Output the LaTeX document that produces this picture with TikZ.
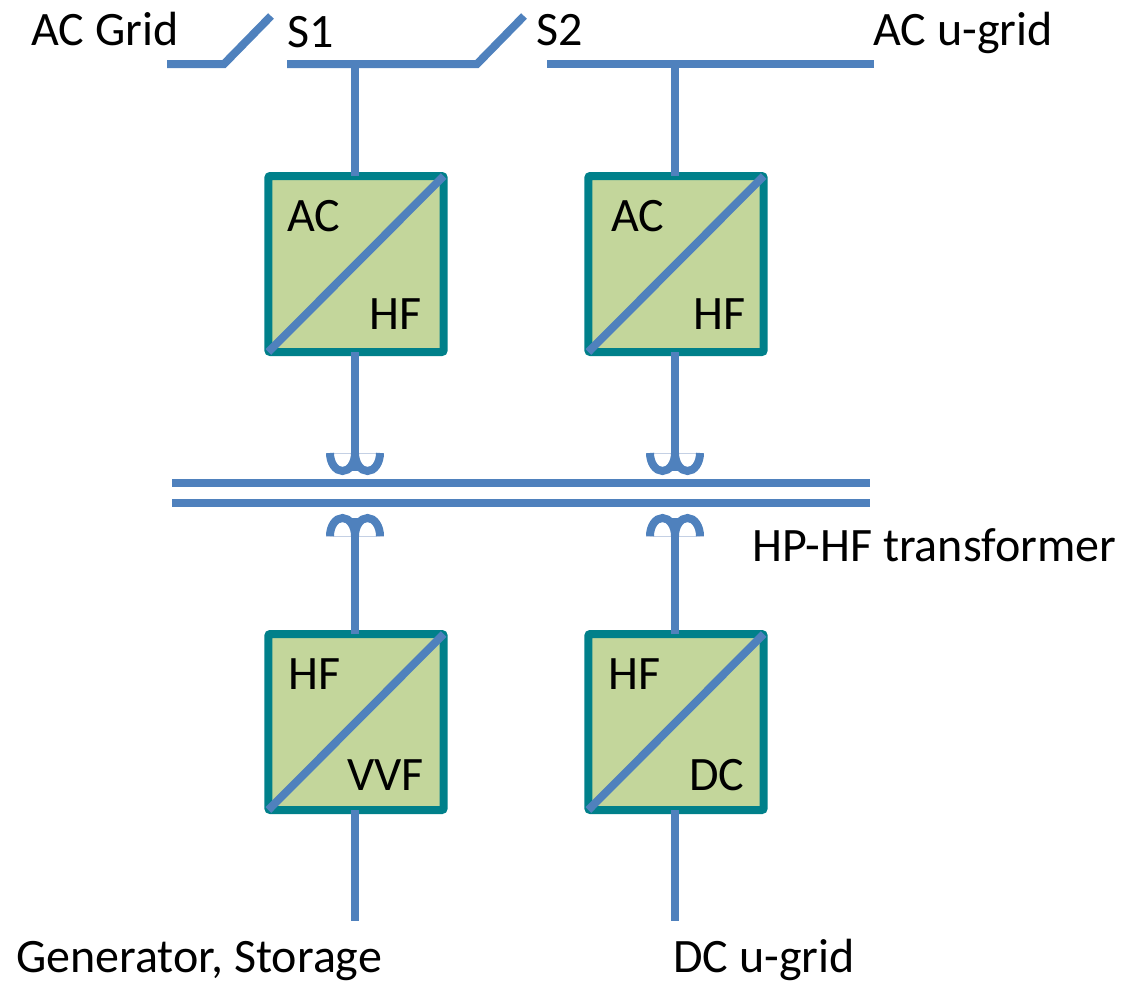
\documentclass[tikz,border=0pt]{standalone}
\usepackage{fontspec}
\setmainfont{Carlito}
\definecolor{wireblue}{HTML}{4F81BD}
\definecolor{convteal}{HTML}{00808A}
\definecolor{convgreen}{HTML}{C3D69B}
\definecolor{coilfaint}{HTML}{C4D0E4}
\tikzset{x=0.75pt,y=-0.75pt,
 wire/.style={draw=wireblue,line width=6pt},
 faint/.style={draw=coilfaint,line width=0.75pt},
 conv/.style={draw=convteal,fill=convgreen,line width=6pt,rounded corners=1.5pt,minimum width=131.5pt,minimum height=132pt,inner sep=0pt,outer sep=0pt},
 lab/.style={font=\fontsize{36}{38}\selectfont,inner sep=0pt,anchor=base west,text=black,yshift=-1.5pt}}
\begin{document}
\begin{tikzpicture}
\useasboundingbox (0,0) rectangle (1124,983);
\node[conv] (c1) at (356,264) {};
\node[conv] (c2) at (676,264) {};
\node[conv] (c3) at (356,722) {};
\node[conv] (c4) at (676,722) {};
\foreach \c in {c1,c2,c3,c4}{\draw[wire] (\c.south west)--(\c.north east);}
% labels
\node[lab] (t1) at (31,43) {AC Grid};
\node[lab] (t2) at (287,45) {S1};
\node[lab] (t3) at (536,43) {S2};
\node[lab] (t4) at (873,43) {AC u-grid};
\node[lab] (t5) at (287,229) {AC};
\node[lab] (t6) at (369,327) {HF};
\node[lab] (t7) at (611,229) {AC};
\node[lab] (t8) at (693,327) {HF};
\node[lab] (t9) at (288,687) {HF};
\node[lab] (t10) at (347,788) {VVF};
\node[lab] (t11) at (608,687) {HF};
\node[lab] (t12) at (689,788) {DC};
\node[lab] (t13) at (752,559) {HP-HF transformer};
\node[lab] (t14) at (16,970) {Generator, Storage};
\node[lab] (t15) at (673,970) {DC u-grid};
% bus
\coordinate (a) at (167,64);\coordinate (b) at (224,64);\coordinate (c) at (271,16);
\draw[wire] (a)--(b)--(c);
\coordinate (d) at (287,64);\coordinate (e) at (477,64);\coordinate (f) at (524,16);
\draw[wire] (d)--(e)--(f);
\coordinate (g) at (547,64);\coordinate (h) at (874,64);
\draw[wire] (g)--(h);
\coordinate (j1) at (355,64);\coordinate (j2) at (675,64);
\draw[wire] (j1)--(j1|-c1.north);
\draw[wire] (j2)--(j2|-c2.north);
% transformer
\coordinate (bl1) at (172,483);\coordinate (br1) at (870,483);
\coordinate (bl2) at (172,503);\coordinate (br2) at (870,503);
\draw[wire] (bl1)--(br1);
\draw[wire] (bl2)--(br2);
\foreach \n/\x in {c1/355,c2/675}{
 \coordinate (t\n) at (\x,471);
 \draw[faint] (\x-29,453)--(\x+29,453);
 \draw[wire] (t\n|-\n.south)--(t\n);
 \draw[wire] (\x-25,453) arc[start angle=180,end angle=360,x radius=12.5,y radius=-18];
 \draw[wire] (\x,453) arc[start angle=180,end angle=360,x radius=12.5,y radius=-18];
}
\foreach \n/\x in {c3/355,c4/675}{
 \coordinate (t\n) at (\x,518);
 \draw[faint] (\x-29,536)--(\x+29,536);
 \draw[wire] (t\n|-\n.north)--(t\n);
 \draw[wire] (\x-25,536) arc[start angle=180,end angle=0,x radius=12.5,y radius=-18];
 \draw[wire] (\x,536) arc[start angle=180,end angle=0,x radius=12.5,y radius=-18];
}
\coordinate (e3) at (355,921);\coordinate (e4) at (675,921);
\draw[wire] (e3|-c3.south)--(e3);
\draw[wire] (e4|-c4.south)--(e4);
\end{tikzpicture}
\end{document}
